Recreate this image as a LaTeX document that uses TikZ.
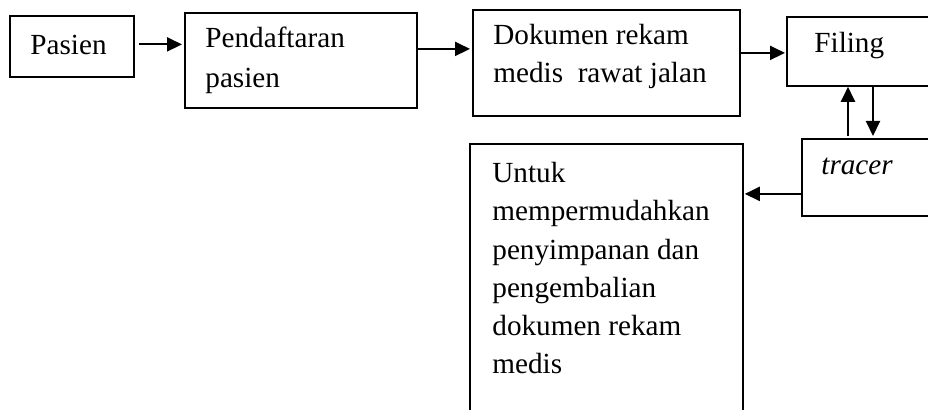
\documentclass[tikz,border=0pt]{standalone}
\usepackage{fontspec}
\setmainfont{Liberation Serif}
\usetikzlibrary{arrows.meta,calc}
\begin{document}
\begin{tikzpicture}[x=0.5pt,y=-0.5pt,
  box/.style={draw,line width=0.9pt,inner sep=0pt,anchor=north west},
  lbl/.style={inner sep=0pt,anchor=base west,align=left,font=\fontsize{14.6pt}{19.15pt}\selectfont},
  arr/.style={line width=1.05pt,-{Triangle[length=7.5pt,width=7pt]}}]
\useasboundingbox (0,0) rectangle (928,410);
\clip (0,0) rectangle (928,410);
% boxes
\node[box,minimum width=62pt,minimum height=30.5pt] (pasien) at (9,15) {};
\node[box,minimum width=116pt,minimum height=47.5pt] (pend) at (184,12) {};
\node[box,minimum width=133.5pt,minimum height=53pt] (dok) at (472,9) {};
\node[box,minimum width=87pt,minimum height=34.5pt] (filing) at (786,16) {};
\node[box,minimum width=79.5pt,minimum height=38.5pt] (tracer) at (801,138) {};
\node[box,minimum width=136.5pt,minimum height=148.5pt] (untuk) at (469,143) {};
% texts (anchor = baseline of the last line)
\node[lbl] (tpasien) at (30,55) {Pasien};
\node[lbl,font=\fontsize{14.6pt}{20pt}\selectfont] (tpend) at (205,88) {Pendaftaran\\pasien};
\node[lbl] (tdok) at (493,83) {Dokumen rekam\\medis\ \ rawat jalan};
\node[lbl] (tfiling) at (814,53) {Filing};
\node[lbl,font=\fontsize{14.6pt}{19.15pt}\selectfont\itshape] (ttracer) at (821,175) {tracer};
\node[lbl] (tuntuk) at (492,374) {Untuk\\mempermudahkan\\penyimpanan dan\\pengembalian\\dokumen rekam\\medis};
% arrows
\draw[arr] ($(pasien.east)+(4,-2)$) -- ($(pasien.east -| pend.west)+(-2,-2)$);
\draw[arr] ($(pend.east)+(0,-11.5)$) -- ($(pend.east -| dok.west)+(-2,-11.5)$);
\draw[arr] ($(dok.east |- filing.west)+(0,1.5)$) -- ($(filing.west)+(-1,1.5)$);
\draw[arr] ($(tracer.north west)+(47,-2)$) -- ($(filing.south west)+(62,0)$);
\draw[arr] ($(filing.south west)+(87,0)$) -- ($(tracer.north west)+(72,-2)$);
\draw[arr] ($(tracer.west)+(0,16.5)$) -- ($(tracer.west -| untuk.east)+(1,16.5)$);
\end{tikzpicture}
\end{document}
